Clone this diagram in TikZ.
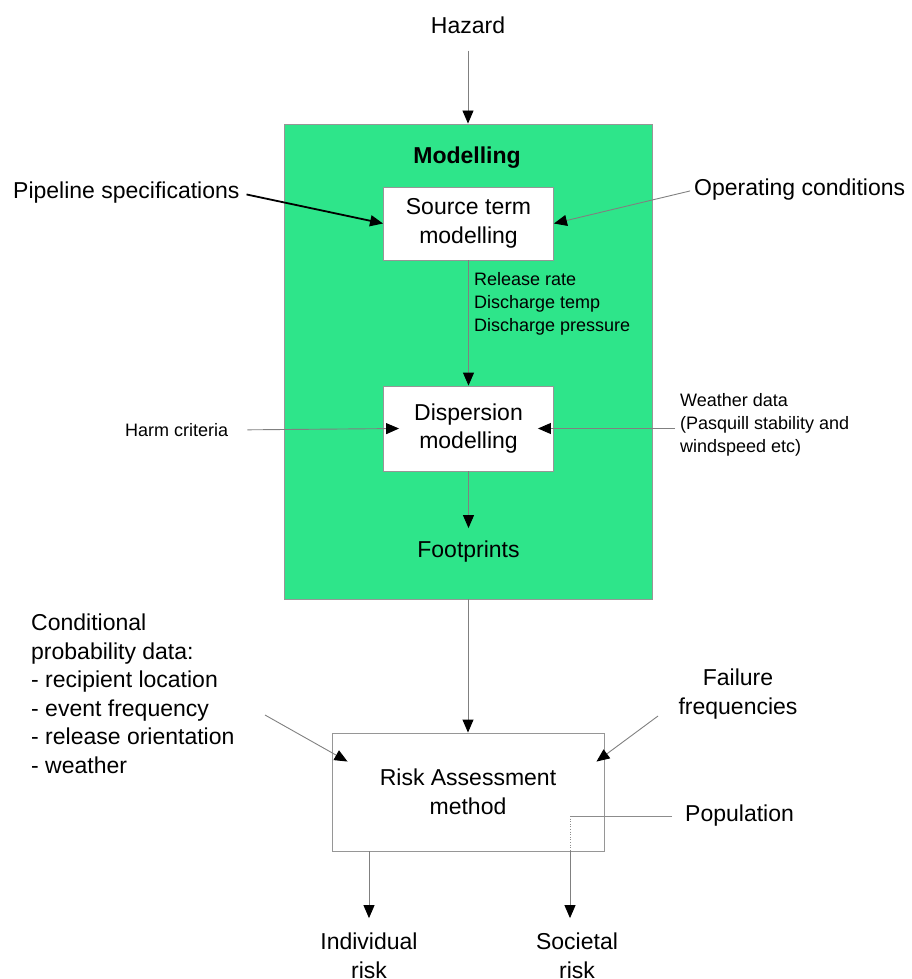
\documentclass[tikz,border=0pt]{standalone}
\usepackage{fontspec}
\setmainfont{Liberation Sans}
\usetikzlibrary{arrows.meta,positioning,calc}
\definecolor{modelgreen}{RGB}{46,229,138}
\definecolor{framegray}{RGB}{150,150,150}

\begin{document}
\begin{tikzpicture}[x=1pt,y=-1pt,
    every node/.style={inner sep=0pt,align=center,
                       font=\fontsize{23}{28.5}\selectfont},
    small/.style={align=left,font=\fontsize{18}{23}\selectfont},
    box/.style={rectangle,draw=framegray,fill=white,line width=0.9pt},
    flow/.style={draw=black!50,line width=0.9pt,
                 -{Triangle[width=11pt,length=13pt,black]}},
    heavy/.style={flow,draw=black,line width=1.8pt}]
  \useasboundingbox (0,0) rectangle (911,979);

  \node[box,fill=modelgreen,minimum width=368pt,minimum height=475pt] (model) at (468,361.5) {};
  \node[font=\fontsize{23}{28.5}\selectfont\bfseries] (title) at (467,158) {Modelling};
  \node[box,minimum width=170pt,minimum height=73pt] (src) at (468.5,223.5) {Source term\\modelling};
  \node[box,minimum width=170pt,minimum height=85pt] (disp) at (468.5,428.5) {Dispersion\\modelling};
  \node[box,minimum width=272pt,minimum height=118pt] (risk) at (468,792) {Risk Assessment\\method};

  \node (hazard) at (468,25) {Hazard};
  \node[anchor=west] (pipe) at (13,193) {Pipeline specifications};
  \node[anchor=west] (oper) at (694,190) {Operating conditions};
  \node[small,anchor=west] (rel) at (474,303.5) {Release rate\\Discharge temp\\Discharge pressure};
  \node[small,anchor=west] (harm) at (125,430) {Harm criteria};
  \node[small,anchor=west] (weather) at (680,425) {Weather data\\(Pasquill stability and\\windspeed etc)};
  \node (foot) at (468.5,552) {Footprints};
  \node[align=left,anchor=west] (cond) at (31,694) {Conditional\\probability data:\\- recipient location\\- event frequency\\- release orientation\\- weather};
  \node (fail) at (738,694) {Failure\\frequencies};
  \node[anchor=west] (pop) at (685,816) {Population};
  \node (indiv) at (369,956) {Individual\\risk};
  \node (soc) at (577,956) {Societal\\risk};

  \coordinate (dispL) at ([xshift=16pt]disp.west);
  \coordinate (dispR) at ([xshift=-16pt]disp.east);
  \coordinate (riskL) at ([shift={(16,29)}]risk.north west);
  \coordinate (riskR) at ([shift={(-8,29)}]risk.north east);
  \coordinate (condout) at (265,715);
  \coordinate (failout) at (658,716);
  \coordinate (popbend) at (570,816);

  \draw[flow,shorten <=17pt] (hazard) -- (model);
  \draw[heavy,shorten <=7pt] (pipe.east) -- (src.west);
  \draw[flow,shorten <=4pt] (oper.west) -- (src.east);
  \draw[flow] (src) -- (disp);
  \draw[flow,shorten <=19pt] (harm.east) -- (dispL);
  \draw[flow,shorten <=5pt] (weather.west |- dispR) -- (dispR);
  \draw[flow,shorten >=13pt] (disp) -- (foot);
  \draw[flow] (model.south) -- (risk.north);
  \draw[flow] (condout) -- (riskL);
  \draw[flow] (failout) -- (riskR);
  \draw[draw=black!45,line width=0.9pt,shorten <=13pt] (pop.west) -- (popbend);
  \draw[draw=black!45,line width=0.6pt,dotted] (popbend) -- (popbend |- risk.south);
  \draw[flow,shorten >=15pt] (popbend |- risk.south) -- (popbend |- soc.north);
  \draw[flow,shorten >=15pt] (indiv.north |- risk.south) -- (indiv.north);
\end{tikzpicture}
\end{document}
